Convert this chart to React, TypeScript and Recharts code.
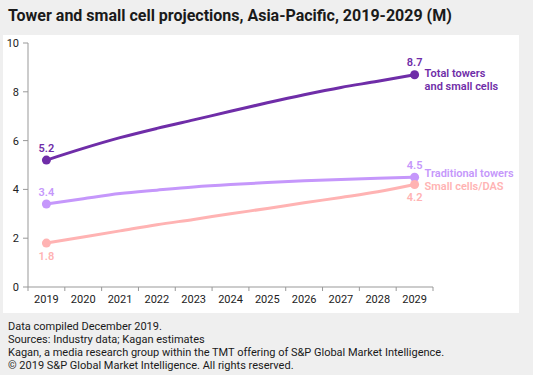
import { LineChart, Line, XAxis, YAxis, LabelList } from "recharts"

const years = ["2019", "2020", "2021", "2022", "2023", "2024", "2025", "2026", "2027", "2028", "2029"]
const totalTowersSmallCells = [5.2, 5.68, 6.12, 6.5, 6.85, 7.2, 7.55, 7.88, 8.18, 8.43, 8.7]
const traditionalTowers = [3.4, 3.62, 3.83, 3.97, 4.1, 4.2, 4.28, 4.35, 4.41, 4.46, 4.5]
const smallCellsDas = [1.8, 2.05, 2.3, 2.55, 2.77, 3.0, 3.22, 3.45, 3.67, 3.9, 4.2]
const yTicks = [0, 2, 4, 6, 8, 10]

const data = years.map((year, i) => ({
  year,
  total: totalTowersSmallCells[i],
  traditional: traditionalTowers[i],
  small: smallCellsDas[i],
}))

const FONT = "Roboto, 'Noto Sans', sans-serif"
const PURPLE = "#6f2da8"
const LILAC = "#c597fb"
const PINK = "#ffb3b3"
const LAST = years.length - 1
const STEP = 405 / years.length

function YearTick(props: any) {
  const { x, y, payload, index } = props
  return (
    <g>
      <line x1={x - STEP / 2} x2={x - STEP / 2} y1={y - 8} y2={y - 4} stroke="#999" />
      {index === LAST && <line x1={x + STEP / 2} x2={x + STEP / 2} y1={y - 8} y2={y - 4} stroke="#999" />}
      <text x={x} y={y} dy="0.71em" textAnchor="middle" fontSize={11} fill="#222" fontFamily={FONT}>
        {payload.value}
      </text>
    </g>
  )
}

function endDot(color: string) {
  return (props: any) => {
    const { cx, cy, index } = props
    if (index !== 0 && index !== LAST) return <g key={index} />
    return <circle key={index} cx={cx} cy={cy} r={4.5} fill={color} />
  }
}

function endValue(color: string, below: boolean) {
  return (props: any) => {
    const { x, y, value, index } = props
    if (index !== 0 && index !== LAST) return null
    return (
      <text x={x} y={below ? y + 13 : y - 12} textAnchor="middle" dominantBaseline="central"
        fontSize={11} fontWeight={600} fill={color} fontFamily={FONT}>
        {value}
      </text>
    )
  }
}

function seriesName(lines: string[], color: string, offset: number) {
  return (props: any) => {
    const { x, y, index } = props
    if (index !== LAST) return null
    return (
      <text x={x + 10} y={y + offset} dominantBaseline="central" fontSize={11} fontWeight={600}
        fill={color} fontFamily={FONT}>
        {lines.map((l, i) => (
          <tspan key={i} x={x + 10} dy={i === 0 ? 0 : 13}>{l}</tspan>
        ))}
      </text>
    )
  }
}

export default function App() {
  return (
    <div style={{ position: "absolute", left: 0, top: 0, width: 533, height: 375, background: "#efefef", fontFamily: FONT }}>
      <div style={{ position: "absolute", left: 8, top: 6, fontSize: 16, fontWeight: 700, color: "#1a1a1a", whiteSpace: "nowrap" }}>
        Tower and small cell projections, Asia-Pacific, 2019-2029 (M)
      </div>
      <div style={{ position: "absolute", left: 3, top: 35, width: 516, height: 278, background: "#fff" }} />
      <div style={{ position: "absolute", left: 3, top: 35 }}>
        <LineChart width={528} height={278} data={data} margin={{ top: 8, right: 98, bottom: 4, left: 0 }}
          style={{ overflow: "visible" }}>
          <XAxis dataKey="year" stroke="#999" tickLine={false} tickSize={4} tickMargin={4} height={22}
            tick={<YearTick />} interval={0} padding={{ left: STEP / 2, right: STEP / 2 }} />
          <YAxis domain={[0, 10]} ticks={yTicks} width={25} stroke="#999" tickSize={5} tickMargin={4}
            tick={{ fontSize: 11, fill: "#222", fontFamily: FONT }} />
          <Line dataKey="total" stroke={PURPLE} strokeWidth={3} type="monotone" isAnimationActive={false}
            dot={endDot(PURPLE)} activeDot={false}>
            <LabelList content={endValue(PURPLE, false)} />
            <LabelList content={seriesName(["Total towers", "and  small cells"], PURPLE, -2)} />
          </Line>
          <Line dataKey="traditional" stroke={LILAC} strokeWidth={3} type="monotone" isAnimationActive={false}
            dot={endDot(LILAC)} activeDot={false}>
            <LabelList content={endValue(LILAC, false)} />
            <LabelList content={seriesName(["Traditional towers"], LILAC, -4)} />
          </Line>
          <Line dataKey="small" stroke={PINK} strokeWidth={3} type="monotone" isAnimationActive={false}
            dot={endDot(PINK)} activeDot={false}>
            <LabelList content={endValue(PINK, true)} />
            <LabelList content={seriesName(["Small cells/DAS"], PINK, 1)} />
          </Line>
        </LineChart>
      </div>
      <div style={{ position: "absolute", left: 8, top: 320, fontSize: 11, lineHeight: "13px", color: "#1a1a1a" }}>
        <div>Data compiled December 2019.</div>
        <div>Sources: Industry data; Kagan estimates</div>
        <div>Kagan, a media research group within the TMT offering of S&amp;P Global Market Intelligence.</div>
        <div>© 2019 S&amp;P Global Market Intelligence. All rights reserved.</div>
      </div>
    </div>
  )
}
